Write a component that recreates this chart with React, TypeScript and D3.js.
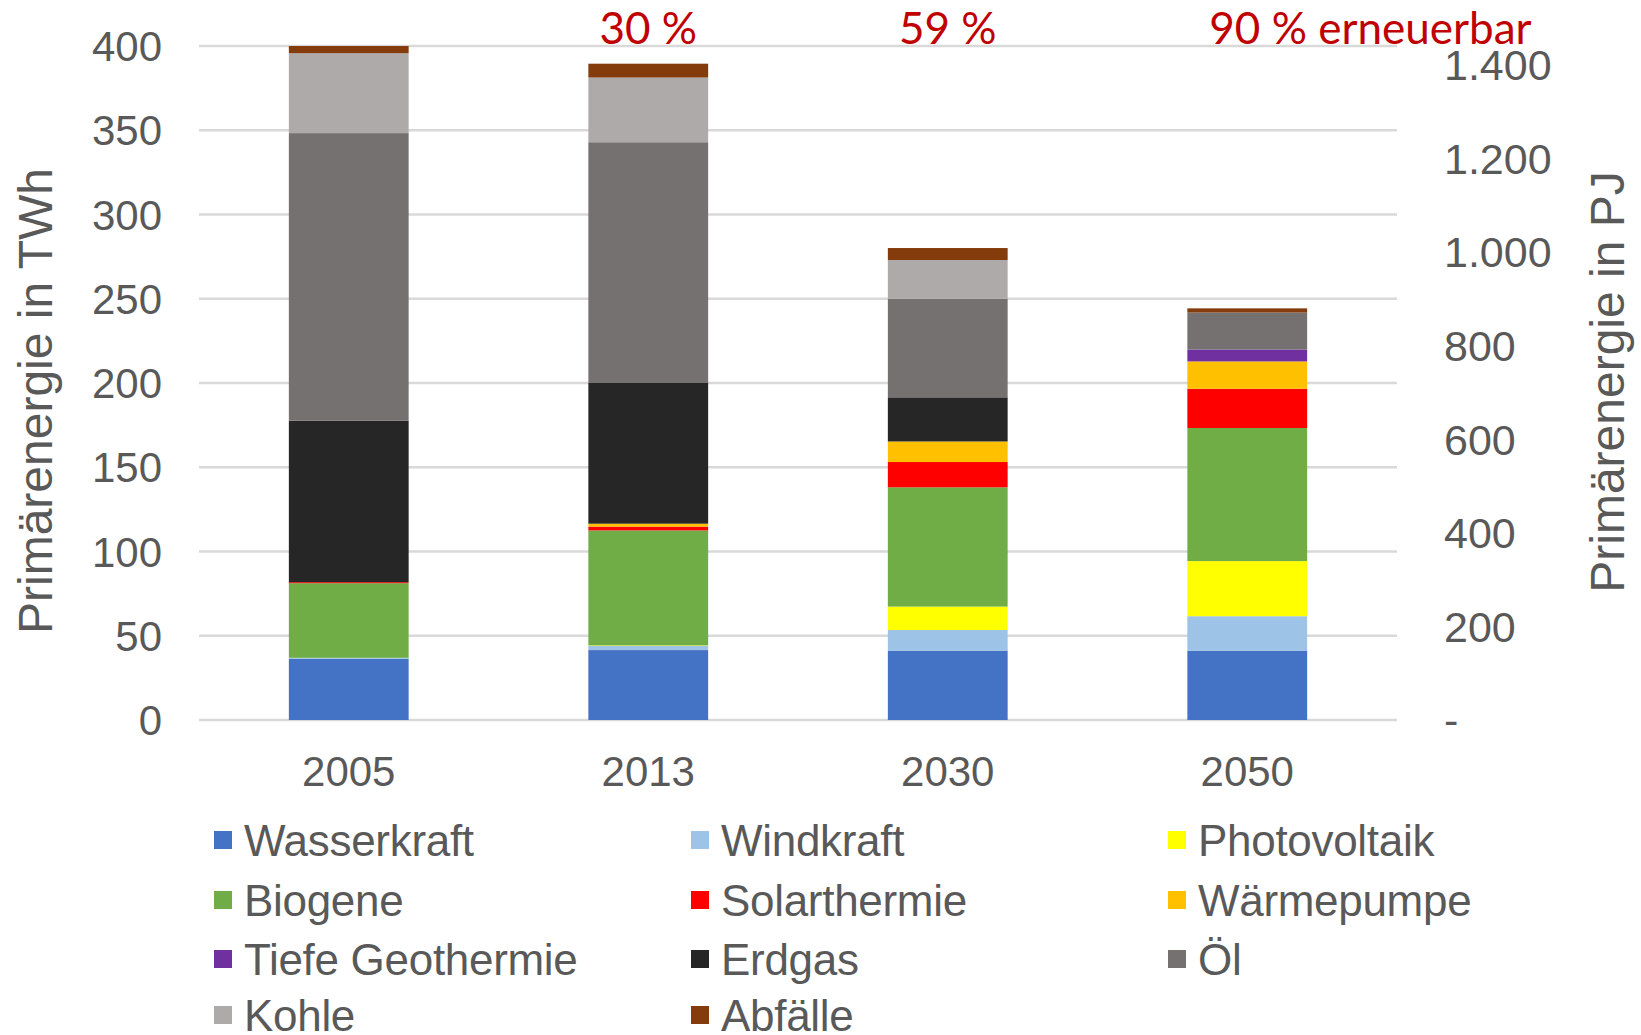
import React from "react";
import * as d3 from "d3";

const years = ["2005", "2013", "2030", "2050"];
const seriesNames = [
  "Wasserkraft", "Windkraft", "Photovoltaik", "Biogene", "Solarthermie", "Wärmepumpe",
  "Tiefe Geothermie", "Erdgas", "Öl", "Kohle", "Abfälle",
];
const seriesColors = [
  "#4472C4", "#9DC3E6", "#FFFF00", "#70AD47", "#FF0000", "#FFC000",
  "#7030A0", "#262626", "#767171", "#AEAAAA", "#843C0C",
];
const wasserkraft = [36.4, 41.5, 41.2, 41.2];
const windkraft = [0.5, 2.5, 12.2, 20.4];
const photovoltaik = [0, 0.3, 13.9, 32.7];
const biogene = [44.3, 68.2, 70.8, 79.0];
const solarthermie = [0.6, 2.3, 15.0, 23.3];
const waermepumpe = [0, 1.7, 12.2, 16.2];
const tiefeGeothermie = [0, 0, 0, 7.1];
const erdgas = [95.8, 83.5, 26.2, 0];
const oel = [170.7, 142.9, 58.5, 21.9];
const kohle = [47.4, 38.4, 23.0, 0];
const abfaelle = [4.3, 8.2, 7.1, 2.5];
const leftTicks = [0, 50, 100, 150, 200, 250, 300, 350, 400];
const rightTicks = [0, 200, 400, 600, 800, 1000, 1200, 1400];
const shareLabels = ["", "30 %", "59 %", "90 % erneuerbar"];
const pjPerTwh = 3.6;

const seriesValues = [
  wasserkraft, windkraft, photovoltaik, biogene, solarthermie, waermepumpe,
  tiefeGeothermie, erdgas, oel, kohle, abfaelle,
];

const W = 1641;
const H = 1035;
const plotLeft = 199;
const plotRight = 1397;
const plotTop = 46;
const plotBottom = 720;
const tickColor = "#595959";
const font = "'Liberation Sans', Arial, sans-serif";

export default function App() {
  const rows = years.map((y, i) => {
    const r: Record<string, number | string> = { year: y };
    seriesNames.forEach((s, k) => (r[s] = seriesValues[k][i]));
    return r;
  });
  const stack = d3.stack<any>().keys(seriesNames)(rows);

  const x = d3.scaleBand().domain(years).range([plotLeft, plotRight]).paddingInner(0.6).paddingOuter(0.3);
  const y = d3.scaleLinear().domain([0, 400]).range([plotBottom, plotTop]);
  const y2 = d3.scaleLinear().domain([0, 400 * pjPerTwh]).range([plotBottom, plotTop]);
  const fmtDE = (v: number) => (v === 0 ? "-" : d3.format(",")(v).replace(/,/g, "."));

  const legendCols = 3;
  const colX = [214, 691, 1168];
  const rowY = [840, 900, 959, 1015];

  return (
    <div style={{ position: "absolute", left: 0, top: 0 }}>
      <svg width={W} height={H} style={{ display: "block", background: "#fff" }}>
        {/* grid */}
        {leftTicks.map((t) => (
          <line key={"g" + t} x1={plotLeft} x2={plotRight} y1={y(t)} y2={y(t)} stroke="#D9D9D9" strokeWidth={2.5} />
        ))}
        {/* bars */}
        {stack.map((layer, k) => (
          <g key={layer.key} fill={seriesColors[k]}>
            {layer.map((d, i) =>
              d[1] - d[0] > 0 ? (
                <rect
                  key={i}
                  x={x(years[i])}
                  width={x.bandwidth()}
                  y={y(d[1])}
                  height={y(d[0]) - y(d[1])}
                />
              ) : null
            )}
          </g>
        ))}
        {/* left axis labels */}
        {leftTicks.map((t) => (
          <text key={"l" + t} x={162} y={y(t)} dy="0.36em" textAnchor="end" fontFamily={font} fontSize={42} fill={tickColor}>
            {t}
          </text>
        ))}
        {/* right axis labels */}
        {rightTicks.map((t) => (
          <text key={"r" + t} x={1444} y={y2(t)} dy="0.36em" textAnchor="start" fontFamily={font} fontSize={43} fill={tickColor}>
            {fmtDE(t)}
          </text>
        ))}
        {/* x labels */}
        {years.map((yr) => (
          <text key={"x" + yr} x={(x(yr) as number) + x.bandwidth() / 2} y={771} dy="0.36em" textAnchor="middle" fontFamily={font} fontSize={42} fill={tickColor}>
            {yr}
          </text>
        ))}
        {/* axis titles */}
        <text transform={`translate(35,401) rotate(-90)`} dy="0.36em" textAnchor="middle" fontFamily={font} fontSize={48} fill={tickColor}>
          Primärenergie in TWh
        </text>
        <text transform={`translate(1607,382) rotate(-90)`} dy="0.36em" textAnchor="middle" fontFamily={font} fontSize={48} fill={tickColor}>
          Primärenergie in PJ
        </text>
        {/* share labels */}
        {shareLabels.map((s, i) =>
          s ? (
            <text
              key={"s" + i}
              x={i === years.length - 1 ? (x(years[i]) as number) + 22 : (x(years[i]) as number) + x.bandwidth() / 2}
              y={44}
              textAnchor={i === years.length - 1 ? "start" : "middle"}
              fontFamily="Lato, 'Open Sans', sans-serif"
              fontSize={44}
              fill="#C00000"
            >
              {s}
            </text>
          ) : null
        )}
        {/* legend */}
        {seriesNames.map((s, k) => {
          const cx = colX[k % legendCols];
          const cy = rowY[Math.floor(k / legendCols)];
          return (
            <g key={"lg" + s}>
              <rect x={cx} y={cy - 9} width={18} height={18} fill={seriesColors[k]} />
              <text x={cx + 30} y={cy} dy="0.36em" fontFamily={font} fontSize={44} fill={tickColor} letterSpacing={-0.3}>
                {s}
              </text>
            </g>
          );
        })}
      </svg>
    </div>
  );
}
